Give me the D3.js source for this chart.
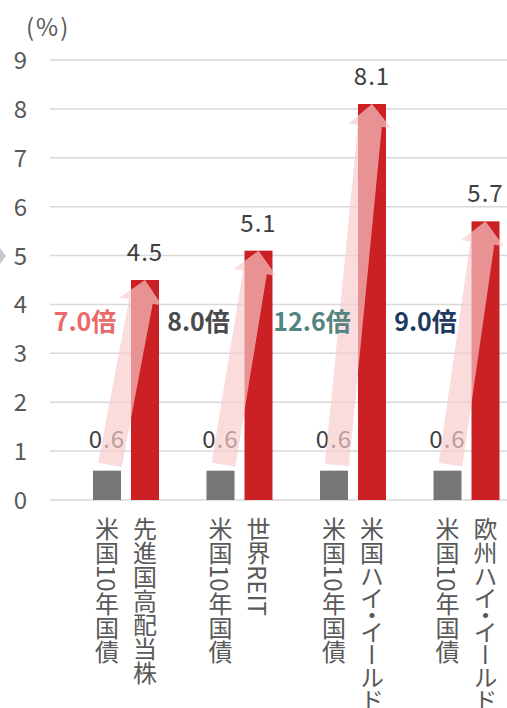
<!DOCTYPE html>
<html>
<head>
<meta charset="utf-8">
<script src="https://cdn.jsdelivr.net/npm/d3@7"></script>
<style>
  body { margin: 0; background: #fff; }
  svg { display: block; font-family: "Noto Sans CJK JP", "Noto Sans", sans-serif; }
</style>
</head>
<body>
<div id="chart"></div>
<script>
// Data
var categories = ["先進国高配当株", "世界REIT", "米国ハイ・イールド債", "欧州ハイ・イールド債"];
var bondLabel = "米国10年国債";
var bondYield = [0.6, 0.6, 0.6, 0.6];
var assetYield = [4.5, 5.1, 8.1, 5.7];
var multiples = ["7.0倍", "8.0倍", "12.6倍", "9.0倍"];
var yTicks = [0, 1, 2, 3, 4, 5, 6, 7, 8, 9];

// Styles
var multipleColor = ["#e86a6a", "#4a4a4a", "#538383", "#1f3a60"];
var grayBar = "#767676";
var redBar = "#cb2125";
var gridColor = "#d9d9d9";

var width = 507, height = 708;

var svg = d3.select("#chart").append("svg")
  .attr("width", width)
  .attr("height", height);

// Scales
var x = d3.scaleBand().domain(categories).range([69, 523]).padding(0);
var y = d3.scaleLinear().domain([0, 9]).range([500, 60]);

var barW = 28;
function grayX(c) { return x(c) + 24; }
function redX(c) { return x(c) + 62; }

// Gridlines
svg.append("g").selectAll("line").data(yTicks).enter()
  .append("line")
  .attr("x1", 50).attr("x2", width)
  .attr("y1", function(d) { return y(d); })
  .attr("y2", function(d) { return y(d); })
  .attr("stroke", gridColor)
  .attr("stroke-width", 1.5);

// Y tick labels
svg.append("g").selectAll("text").data(yTicks).enter()
  .append("text")
  .attr("x", 27)
  .attr("y", function(d) { return y(d) + 9; })
  .attr("text-anchor", "end")
  .attr("font-size", 24)
  .attr("fill", "#595959")
  .text(function(d) { return d; });

svg.append("text")
  .attr("x", 26).attr("y", 36)
  .attr("font-size", 24)
  .attr("letter-spacing", 2)
  .attr("fill", "#595959")
  .text("(%)");

// small gray marker at left edge
svg.append("polygon")
  .attr("points", "0,248 6,256 0,264")
  .attr("fill", "#c8c8c8");

// Bars
svg.append("g").selectAll("rect").data(categories).enter()
  .append("rect")
  .attr("x", function(d) { return grayX(d); })
  .attr("y", function(d, i) { return y(bondYield[i]); })
  .attr("width", barW)
  .attr("height", function(d, i) { return y(0) - y(bondYield[i]); })
  .attr("fill", grayBar);

svg.append("g").selectAll("rect").data(categories).enter()
  .append("rect")
  .attr("x", function(d) { return redX(d); })
  .attr("y", function(d, i) { return y(assetYield[i]); })
  .attr("width", barW)
  .attr("height", function(d, i) { return y(0) - y(assetYield[i]); })
  .attr("fill", redBar);

// Value labels
svg.append("g").selectAll("text").data(categories).enter()
  .append("text")
  .attr("x", function(d) { return grayX(d) + barW / 2; })
  .attr("y", function(d, i) { return y(bondYield[i]) - 23; })
  .attr("text-anchor", "middle")
  .attr("font-size", 24)
  .attr("letter-spacing", 1)
  .attr("fill", "#404040")
  .text(function(d, i) { return bondYield[i].toFixed(1); });

svg.append("g").selectAll("text").data(categories).enter()
  .append("text")
  .attr("x", function(d) { return redX(d) + barW / 2; })
  .attr("y", function(d, i) { return y(assetYield[i]) - 19; })
  .attr("text-anchor", "middle")
  .attr("font-size", 24)
  .attr("letter-spacing", 1)
  .attr("fill", "#404040")
  .text(function(d, i) { return assetYield[i].toFixed(1); });

// Arrows from bond bar to asset bar
function arrowPath(x0, y0, x1, y1) {
  var dx = x1 - x0, dy = y1 - y0;
  var len = Math.sqrt(dx * dx + dy * dy);
  var ux = dx / len, uy = dy / len;
  var px = -uy, py = ux;
  var sw = 12, hw = 21.5, hl = 22;
  var bx = x1 - ux * hl, by = y1 - uy * hl;
  var pts = [
    [x0 + px * sw, y0 + py * sw],
    [bx + px * sw, by + py * sw],
    [bx + px * hw, by + py * hw],
    [x1, y1],
    [bx - px * hw, by - py * hw],
    [bx - px * sw, by - py * sw],
    [x0 - px * sw, y0 - py * sw]
  ];
  return "M" + pts.map(function(p) { return p[0] + "," + p[1]; }).join("L") + "Z";
}

svg.append("g").selectAll("path").data(categories).enter()
  .append("path")
  .attr("d", function(d, i) {
    return arrowPath(grayX(d) + barW / 2 + 3, y(0.72), redX(d) + barW / 2, y(assetYield[i]));
  })
  .attr("fill", "rgb(247,203,203)")
  .attr("fill-opacity", 0.67);

// Multiplier labels
svg.append("g").selectAll("text").data(categories).enter()
  .append("text")
  .attr("x", function(d) { return x(d) + 16; })
  .attr("y", 331)
  .attr("text-anchor", "middle")
  .attr("font-size", 25)
  .attr("font-weight", "bold")
  .attr("fill", function(d, i) { return multipleColor[i]; })
  .text(function(d, i) { return multiples[i]; });

// Category labels (vertical)
var xl = svg.append("g");
categories.forEach(function(c) {
  xl.append("text")
    .attr("x", grayX(c) + barW / 2)
    .attr("y", 517)
    .style("writing-mode", "vertical-rl")
    .style("font-feature-settings", "'vpal'")
    .attr("font-size", 24)
    .attr("fill", "#595959")
    .text(bondLabel);
  xl.append("text")
    .attr("x", redX(c) + barW / 2)
    .attr("y", 517)
    .style("writing-mode", "vertical-rl")
    .style("font-feature-settings", "'vpal'")
    .attr("font-size", 24)
    .attr("fill", "#595959")
    .text(c);
});
</script>
</body>
</html>
